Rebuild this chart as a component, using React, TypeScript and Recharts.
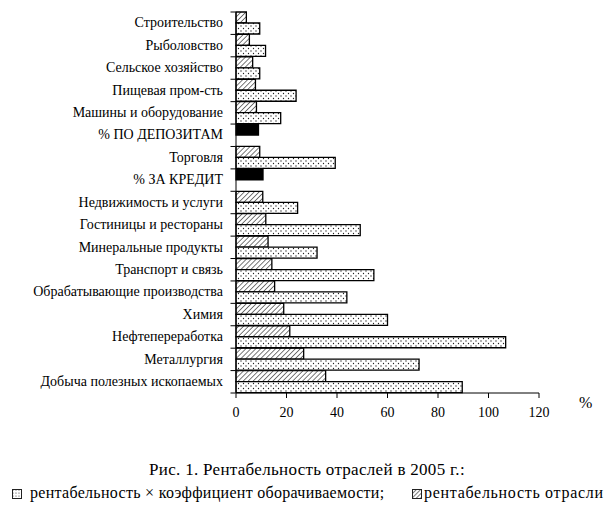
import React from "react";
import { BarChart, Bar, XAxis, YAxis, Cell, Label } from "recharts";

const categories = [
  "Строительство",
  "Рыболовство",
  "Сельское хозяйство",
  "Пищевая пром-сть",
  "Машины и оборудование",
  "% ПО ДЕПОЗИТАМ",
  "Торговля",
  "% ЗА КРЕДИТ",
  "Недвижимость и услуги",
  "Гостиницы и рестораны",
  "Минеральные продукты",
  "Транспорт и связь",
  "Обрабатывающие производства",
  "Химия",
  "Нефтепереработка",
  "Металлургия",
  "Добыча полезных ископаемых",
];

// рентабельность отрасли (hatched)
const profitability = [4.1, 5.3, 6.6, 7.7, 8.1, null, 9.4, null, 10.6, 11.8, 12.7, 14.2, 15.3, 18.9, 21.3, 26.8, 35.5];
// рентабельность × коэффициент оборачиваемости (dotted)
const profitTurnover = [9.4, 11.7, 9.4, 23.8, 17.7, null, 39.3, null, 24.4, 49.2, 32.1, 54.6, 43.9, 60, 106.8, 72.5, 89.6];
// interest rates (black)
const rates = [null, null, null, null, null, 8.9, null, 10.7, null, null, null, null, null, null, null, null, null];

const xTicks = [0, 20, 40, 60, 80, 100, 120];

const data = categories.map((name, i) => ({
  name,
  top: profitability[i] ?? rates[i],
  isRate: rates[i] != null,
  bottom: profitTurnover[i],
}));

const FONT = '"Liberation Serif", "Times New Roman", serif';
const CHART_W = 614;
const CHART_H = 430;
const M_TOP = 12;
const M_BOTTOM = 7;
const X_AXIS_H = 30;
const Y_AXIS_W = 236;
const PLOT_H = CHART_H - M_TOP - M_BOTTOM - X_AXIS_H;
const BAND = PLOT_H / categories.length;

function CategoryTick(props: any) {
  const { x, y, payload, index } = props;
  const ax = Y_AXIS_W - 0.5;
  return (
    <g>
      <text x={x} y={y} dy="0.3em" textAnchor="end" fontSize={14} fill="#000" fontFamily={FONT}>
        {payload.value}
      </text>
      <line x1={ax - 5} x2={ax} y1={y - BAND / 2} y2={y - BAND / 2} stroke="#000" />
      {index === categories.length - 1 && (
        <line x1={ax - 5} x2={ax} y1={y + BAND / 2} y2={y + BAND / 2} stroke="#000" />
      )}
    </g>
  );
}

function DotIcon() {
  return (
    <svg width={10} height={10} style={{ verticalAlign: "-1px", marginRight: 8 }}>
      <defs>
        <pattern id="dotsIcon" width={3} height={3} patternUnits="userSpaceOnUse">
          <circle cx={1} cy={1} r={0.6} fill="#333" />
        </pattern>
      </defs>
      <rect x={0.5} y={0.5} width={9} height={9} fill="url(#dotsIcon)" stroke="#222" />
    </svg>
  );
}

function HatchIcon() {
  return (
    <svg width={10} height={10} style={{ verticalAlign: "-1px", marginRight: 2 }}>
      <defs>
        <pattern id="hatchIcon" width={3} height={3} patternUnits="userSpaceOnUse" patternTransform="rotate(45)">
          <rect width={3} height={3} fill="#fff" />
          <line x1={0} y1={0} x2={0} y2={3} stroke="#333" strokeWidth={1.3} />
        </pattern>
      </defs>
      <rect x={0.5} y={0.5} width={9} height={9} fill="url(#hatchIcon)" stroke="#222" />
    </svg>
  );
}

export default function App() {
  return (
    <div style={{ position: "absolute", left: 0, top: 0, width: 614, height: 512, background: "#fff", fontFamily: FONT }}>
      <BarChart
        width={CHART_W}
        height={CHART_H}
        data={data}
        layout="vertical"
        barCategoryGap={0}
        barGap={0}
        margin={{ top: M_TOP, right: 75, bottom: M_BOTTOM, left: 0 }}
      >
        <defs>
          <pattern id="dots" width={5} height={5} patternUnits="userSpaceOnUse">
            <rect width={5} height={5} fill="#fff" />
            <circle cx={1} cy={1} r={0.65} fill="#222" />
            <circle cx={3.5} cy={3.5} r={0.65} fill="#222" />
          </pattern>
          <pattern id="hatch" width={3.5} height={3.5} patternUnits="userSpaceOnUse" patternTransform="rotate(45)">
            <rect width={3.5} height={3.5} fill="#fff" />
            <line x1={0} y1={0} x2={0} y2={3.5} stroke="#333" strokeWidth={1.3} />
          </pattern>
        </defs>
        <XAxis
          type="number"
          domain={[0, 120]}
          ticks={xTicks}
          height={X_AXIS_H}
          stroke="#000"
          tickSize={5}
          tickMargin={9}
          tick={{ fill: "#000", fontSize: 14, fontFamily: FONT }}
        >
          <Label value="%" position="right" offset={40} dy={-6} fill="#000" fontSize={16} fontFamily={FONT} />
        </XAxis>
        <YAxis
          type="category"
          dataKey="name"
          width={Y_AXIS_W}
          stroke="#000"
          tickLine={false}
          tickMargin={7}
          interval={0}
          tick={<CategoryTick />}
        />
        <Bar dataKey="top" fill="url(#hatch)" stroke="#000" strokeWidth={1.3} isAnimationActive={false}>
          {data.map((d, i) => (
            <Cell key={i} fill={d.isRate ? "#000" : "url(#hatch)"} />
          ))}
        </Bar>
        <Bar dataKey="bottom" fill="url(#dots)" stroke="#000" strokeWidth={1.3} isAnimationActive={false} />
      </BarChart>
      <div style={{ position: "absolute", left: 0, top: 460, width: 614, textAlign: "center", fontSize: 17, letterSpacing: 0.3, color: "#000" }}>
        Рис. 1. Рентабельность отраслей в 2005 г.:
      </div>
      <div style={{ position: "absolute", left: 12, top: 484, fontSize: 16, letterSpacing: 0.3, color: "#000", whiteSpace: "nowrap" }}>
        <DotIcon />
        рентабельность × коэффициент оборачиваемости;
      </div>
      <div style={{ position: "absolute", left: 412, top: 484, fontSize: 16, letterSpacing: 0.7, color: "#000", whiteSpace: "nowrap" }}>
        <HatchIcon />
        рентабельность отрасли
      </div>
    </div>
  );
}
